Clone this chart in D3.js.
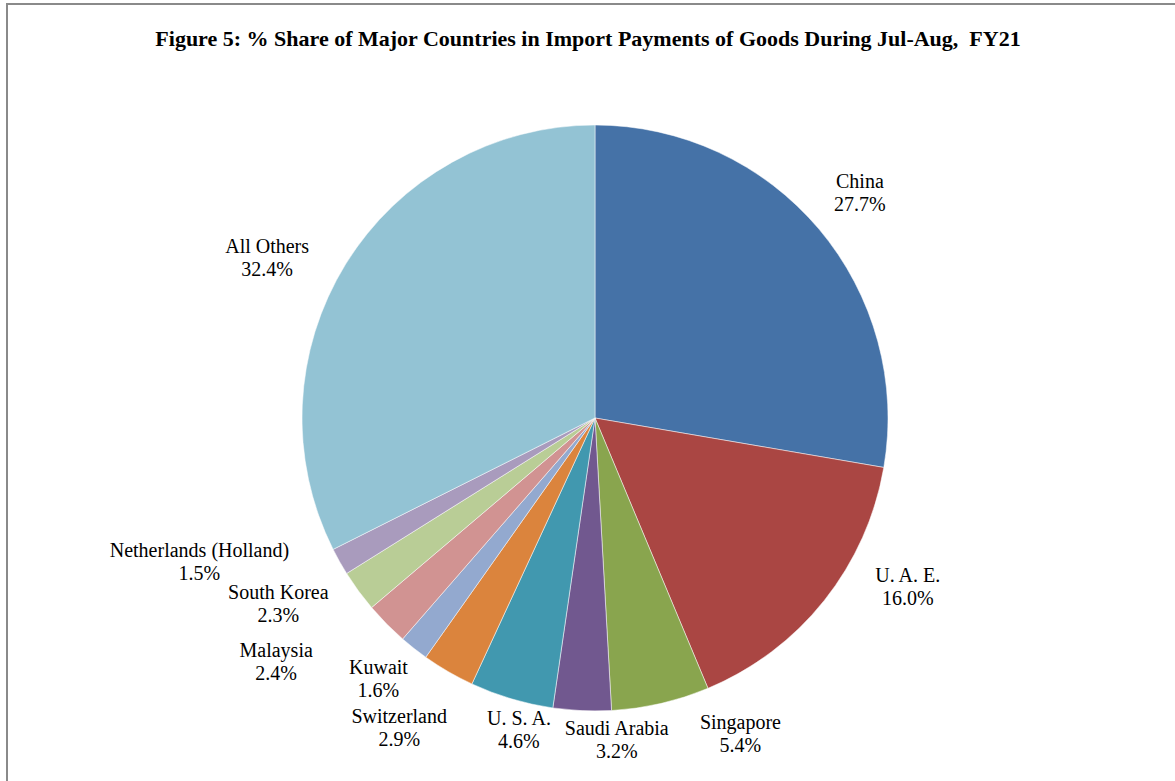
<!DOCTYPE html>
<html>
<head>
<meta charset="utf-8">
<script src="https://cdn.jsdelivr.net/npm/d3@7"></script>
<style>
  body { margin: 0; background: #fff; }
  svg { display: block; }
</style>
</head>
<body>
<svg id="chart" width="1175" height="781"></svg>
<script>
// Dữ liệu
const countries = ["China", "U. A. E.", "Singapore", "Saudi Arabia", "U. S. A.", "Switzerland",
                   "Kuwait", "Malaysia", "South Korea", "Netherlands (Holland)", "All Others"];
const shares = [27.7, 16.0, 5.4, 3.2, 4.6, 2.9, 1.6, 2.4, 2.3, 1.5, 32.4];
const sliceColors = ["#4572A7", "#AA4643", "#89A54E", "#71588F", "#4198AF", "#DB843D",
                     "#93A9CF", "#D19392", "#B9CD96", "#A99BBD", "#93C3D4"];
// dịch nhãn so với vị trí mặc định (px)
const labelNudge = [[18, -19], [60, -34], [73, -1], [36, -3], [16, 0], [-34, 28],
                    [-17, 5], [-89, 15], [-56, -7], [-114, -16], [-53, 8]];

const data = countries.map((c, i) => ({ name: c, value: shares[i], idx: i }));

const svg = d3.select("#chart");
const cx = 595, cy = 418, r = 293;
const serif = "'Liberation Serif', 'Times New Roman', Times, serif";

// Khung viền
svg.append("path")
   .attr("d", "M7,781 V4 H1175")
   .attr("fill", "none")
   .attr("stroke", "#8a8a8a")
   .attr("stroke-width", 2);

const g = svg.append("g").attr("transform", `translate(${cx},${cy})`);

const pie = d3.pie().value(d => d.value).sort(null);
const arc = d3.arc().innerRadius(0).outerRadius(r);
const labelArc = d3.arc().innerRadius(r + 30).outerRadius(r + 30);

const color = d3.scaleOrdinal().domain(countries).range(sliceColors);

const arcs = pie(data);

// Vẽ lát
g.selectAll("path.slice")
  .data(arcs)
  .enter().append("path")
    .attr("class", "slice")
    .attr("d", arc)
    .attr("fill", d => color(d.data.name))
    .attr("stroke", "#ffffff")
    .attr("stroke-width", 0.5);

// Nhãn
const lbl = g.selectAll("text.lbl")
  .data(arcs)
  .enter().append("text")
    .attr("class", "lbl")
    .attr("text-anchor", "middle")
    .style("font-family", serif)
    .style("font-size", "20px")
    .attr("fill", "#000")
    .attr("transform", d => {
      const [x, y] = labelArc.centroid(d);
      const n = labelNudge[d.data.idx];
      return `translate(${x + n[0]},${y + n[1]})`;
    });

lbl.append("tspan").attr("x", 0).attr("y", -3).text(d => d.data.name);
lbl.append("tspan").attr("x", 0).attr("y", 20).text(d => d.data.value.toFixed(1) + "%");

// Tiêu đề
svg.append("text")
   .attr("x", 588)
   .attr("y", 46)
   .attr("text-anchor", "middle")
   .attr("xml:space", "preserve")
   .style("white-space", "pre")
   .style("font-family", serif)
   .style("font-size", "22px")
   .style("font-weight", "bold")
   .text("Figure 5: % Share of Major Countries in Import Payments of Goods During Jul-Aug,  FY21");
</script>
</body>
</html>
